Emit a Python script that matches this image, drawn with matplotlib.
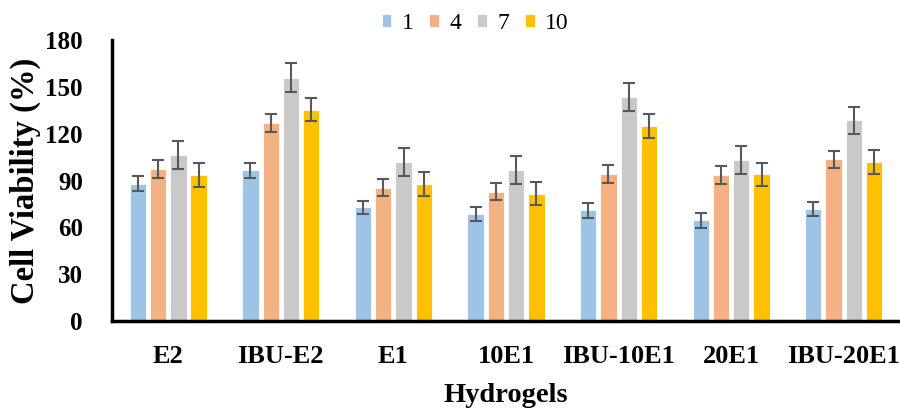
import numpy as np
import matplotlib
matplotlib.use("Agg")
import matplotlib.pyplot as plt

plt.rcParams['font.family'] = ['Liberation Serif', 'DejaVu Serif']

hydrogels = ["E2", "IBU-E2", "E1", "10E1", "IBU-10E1", "20E1", "IBU-20E1"]
days = ["1", "4", "7", "10"]

day1 = [88, 96.5, 73, 68.5, 71, 64.5, 71.5]
day4 = [97.5, 127, 85.5, 83, 94, 93.5, 103.5]
day7 = [106.5, 156, 102, 97, 143.5, 103, 128.5]
day10 = [93.5, 135.5, 88, 81.5, 125, 94, 102]

err1 = [4.8, 4.7, 4.2, 4.7, 4.8, 4.7, 4.5]
err4 = [5.6, 5.7, 5.7, 5.6, 5.7, 5.6, 5.7]
err7 = [8.9, 9.0, 9.0, 8.9, 9.0, 8.9, 8.9]
err10 = [7.7, 7.6, 7.6, 7.4, 7.5, 7.5, 7.6]

colors = ['#9DC3E6', '#F4B183', '#C9C9C9', '#FFC000']

fig = plt.figure(figsize=(9, 4.09), dpi=100)
ax = fig.add_axes([0.1244, 0.215, 0.8756, 0.687])

x = np.arange(len(hydrogels))
slot = 0.18
width = 0.145
series = [day1, day4, day7, day10]
errors = [err1, err4, err7, err10]

for i, (vals, errs) in enumerate(zip(series, errors)):
    pos = x + (i - 1.5) * slot
    ax.bar(pos, vals, width, color=colors[i], edgecolor='white', linewidth=0.6,
           label=days[i], zorder=2)
    ax.errorbar(pos, vals, yerr=errs, fmt='none', ecolor='#595959',
                elinewidth=1.5, capsize=4, capthick=1.5, zorder=3)

ax.set_xlim(-0.5, len(hydrogels) - 0.5)
ax.set_ylim(0, 180)
ax.set_yticks(np.arange(0, 181, 30))
ax.set_xticks(x)
ax.set_xticklabels(hydrogels, fontsize=19, fontweight='bold')
for lbl in ax.get_yticklabels():
    lbl.set_fontsize(18)
    lbl.set_fontweight('bold')
ax.tick_params(axis='y', length=0, pad=21)
ax.tick_params(axis='x', length=0, pad=17)

for side in ['top', 'right']:
    ax.spines[side].set_visible(False)
ax.spines['left'].set_linewidth(2.5)
ax.spines['bottom'].set_linewidth(2.5)

ax.set_ylabel("Cell Viability (%)", fontsize=23.5, fontweight='bold', labelpad=3)
ax.set_xlabel("Hydrogels", fontsize=20.5, fontweight='bold', labelpad=11)

leg = fig.legend(loc='center', bbox_to_anchor=(0.528, 0.943), ncol=4,
                 frameon=False, fontsize=17, handlelength=0.42, handleheight=0.5,
                 handletextpad=0.45, columnspacing=0.65, borderpad=0.2)

fig.savefig("out.png", dpi=100)
